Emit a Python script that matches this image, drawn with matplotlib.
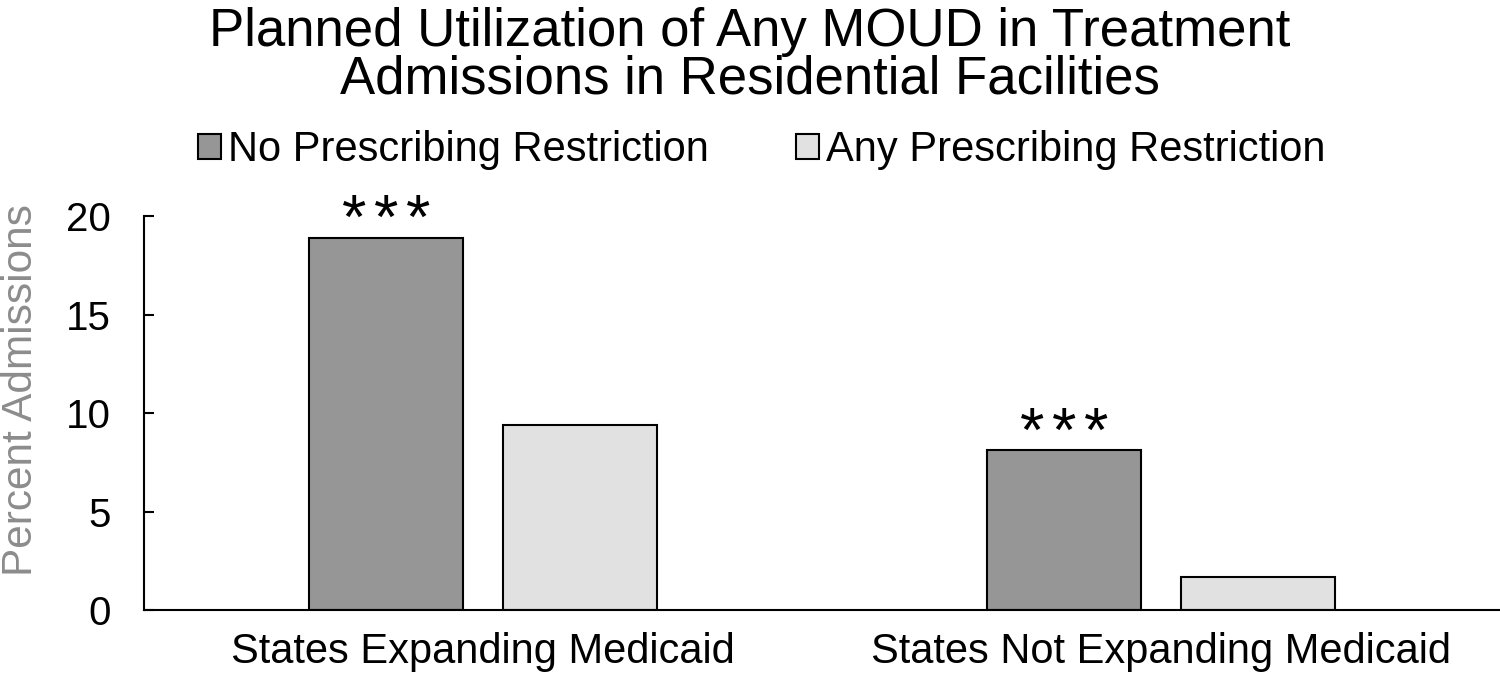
import matplotlib
matplotlib.use("Agg")
import matplotlib.pyplot as plt
import numpy as np

plt.rcParams['font.family'] = ['Liberation Sans', 'DejaVu Sans']

categories = ["States Expanding Medicaid", "States Not Expanding Medicaid"]
series_names = ["No Prescribing Restriction", "Any Prescribing Restriction"]
no_restriction = [18.9, 8.1]
any_restriction = [9.4, 1.7]
significance = ["***", "***"]
yticks = [0, 5, 10, 15, 20]

colors = ["#969696", "#e1e1e1"]

fig = plt.figure(figsize=(15, 6.73), dpi=100)
ax = fig.add_axes([0.096, 0.0936, 0.904, 0.5854])

x = np.arange(len(categories))
w = 0.227
off = 0.143
b1 = ax.bar(x - off, no_restriction, w, color=colors[0], edgecolor="black", linewidth=1.5, label=series_names[0])
b2 = ax.bar(x + off, any_restriction, w, color=colors[1], edgecolor="black", linewidth=1.5, label=series_names[1])

# significance stars, each star drawn separately with wider spacing
for xi, v, s in zip(x - off, no_restriction, significance):
    n = len(s)
    for k, ch in enumerate(s):
        dx = (k - (n - 1) / 2) * 23.0
        ax.annotate(ch, xy=(xi, v), xytext=(dx, 0), textcoords="offset points",
                    ha="center", va="baseline", fontsize=45)

ax.set_xlim(-0.5, 1.5)
ax.set_ylim(0, 20)
ax.set_yticks(yticks)
ax.set_xticks(x)
ax.set_xticklabels(categories, fontsize=30)
ax.tick_params(axis="y", direction="in", length=7, width=1.5, labelsize=29, pad=24)
ax.tick_params(axis="x", length=0, pad=16)
for sp in ["top", "right"]:
    ax.spines[sp].set_visible(False)
ax.spines["left"].set_linewidth(1.5)
ax.spines["bottom"].set_linewidth(1.5)
ax.set_ylabel("Percent Admissions", fontsize=30.5, color="#8c8c8c")
ax.yaxis.set_label_coords(-0.076, 0.558)

fig.text(0.5, 0.989, "Planned Utilization of Any MOUD in Treatment\nAdmissions in Residential Facilities",
         ha="center", va="top", fontsize=38, linespacing=0.92)

fig.legend(handles=[b1, b2], labels=series_names, loc="center", bbox_to_anchor=(0.508, 0.777),
           ncol=2, frameon=False, fontsize=30, handlelength=0.55, handleheight=0.55,
           handletextpad=0.17, columnspacing=2.1)

fig.savefig("out.png", dpi=100)
